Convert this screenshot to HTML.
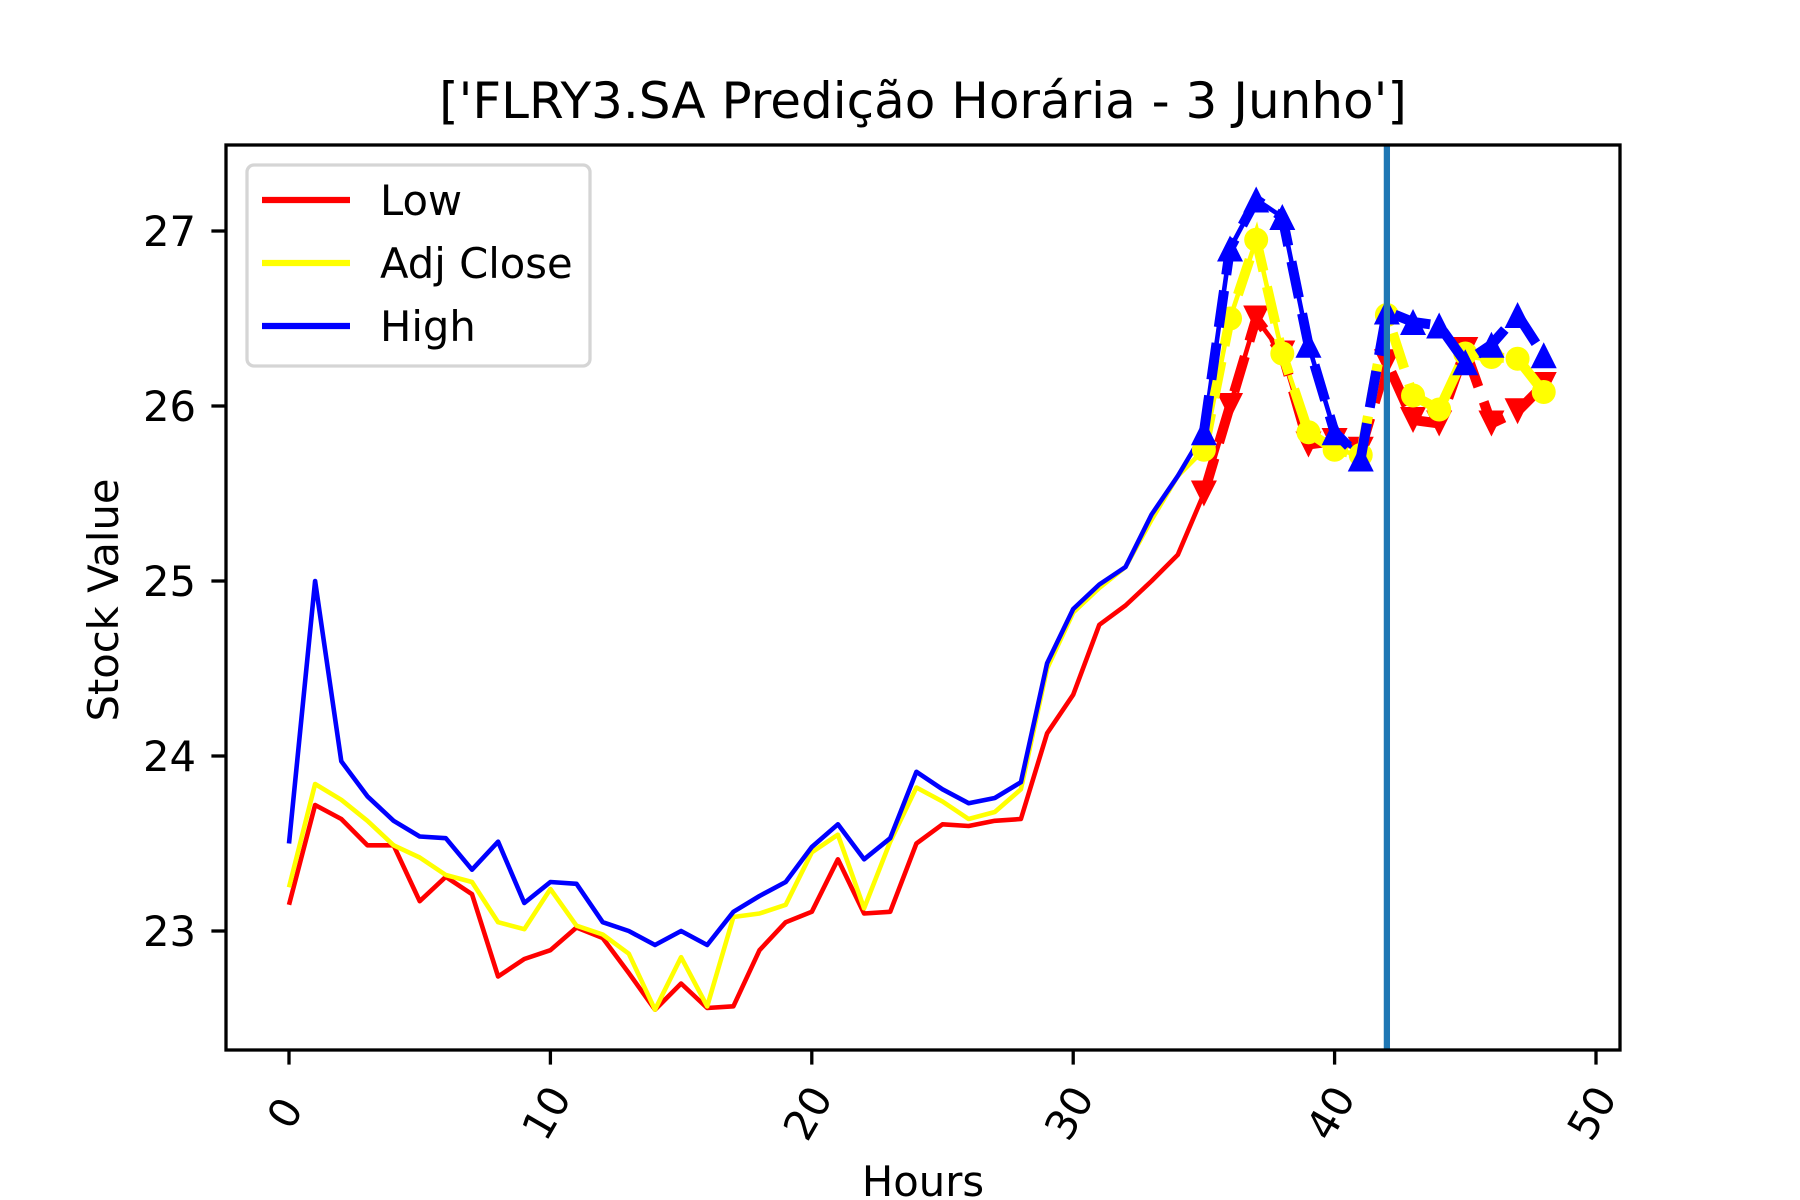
<!DOCTYPE html>
<html><head><meta charset="utf-8"><style>
html,body{margin:0;padding:0;background:#fff;}
svg{display:block;font-family:"DejaVu Sans","Liberation Sans",sans-serif;}
</style></head><body>
<svg id="chart" width="1800" height="1200" viewBox="0 0 1800 1200" xmlns="http://www.w3.org/2000/svg">
<rect width="1800" height="1200" fill="#fff"/>
<text x="923" y="118" font-size="50" text-anchor="middle">['FLRY3.SA Predição Horária - 3 Junho']</text>
<text x="923" y="1196" font-size="41.7" text-anchor="middle">Hours</text>
<text x="0" y="0" font-size="41.7" text-anchor="middle" transform="translate(118,600) rotate(-90)">Stock Value</text>
<g id="plot"></g>
</svg>
<script>
const hours = Array.from({length:42},(_,i)=>i);
const lowActual = [23.15,23.72,23.64,23.49,23.49,23.17,23.31,23.21,22.74,22.84,22.89,23.02,22.96,22.76,22.55,22.70,22.56,22.57,22.89,23.05,23.11,23.41,23.10,23.11,23.50,23.61,23.60,23.63,23.64,24.13,24.35,24.75,24.86,25.00,25.15,25.50,26.00,26.50,26.30,25.80,25.80,25.75];
const closeActual = [23.25,23.84,23.75,23.63,23.49,23.42,23.32,23.28,23.05,23.01,23.24,23.03,22.98,22.87,22.55,22.85,22.57,23.08,23.10,23.15,23.45,23.55,23.13,23.51,23.82,23.74,23.64,23.68,23.81,24.50,24.82,24.96,25.08,25.35,25.60,25.75,26.50,26.95,26.30,25.85,25.75,25.72];
const highActual = [23.50,25.00,23.97,23.77,23.63,23.54,23.53,23.35,23.51,23.16,23.28,23.27,23.05,23.00,22.92,23.00,22.92,23.11,23.20,23.28,23.48,23.61,23.41,23.53,23.91,23.81,23.73,23.76,23.85,24.53,24.84,24.98,25.08,25.38,25.60,25.85,26.90,27.18,27.08,26.35,25.85,25.72];
const predHours = [35,36,37,38,39,40,41,42,43,44,45,46,47,48];
const lowPred = [25.50,26.00,26.50,26.30,25.78,25.80,25.75,26.25,25.92,25.90,26.32,25.90,25.97,26.12];
const closePred = [25.75,26.50,26.95,26.30,25.85,25.75,25.72,26.52,26.06,25.98,26.30,26.28,26.27,26.08];
const highPred = [25.85,26.90,27.18,27.08,26.35,25.85,25.70,26.54,26.48,26.46,26.25,26.35,26.52,26.29];
const xTicks = [0,10,20,30,40,50];
const yTicks = [23,24,25,26,27];
const splitHour = 42;

const NS="http://www.w3.org/2000/svg";
const L=226,R=1620,T=145,B=1050;
const X=v=>289+(v)*26.14;
const Y=v=>231+(27-v)*175;
const plot=document.getElementById('plot');
function mk(tag,attrs,parent){const e=document.createElementNS(NS,tag);for(const k in attrs)e.setAttribute(k,attrs[k]);(parent||plot).appendChild(e);return e;}
const defs=mk('defs',{});
const cp=mk('clipPath',{id:'clip'},defs);mk('rect',{x:L,y:T,width:R-L,height:B-T},cp);
const g=mk('g',{'clip-path':'url(#clip)'});
function pts(xs,ys){return xs.map((x,i)=>X(x).toFixed(1)+','+Y(ys[i]).toFixed(1)).join(' ');}
[[lowActual,'#ff0000','low-actual-line'],[closeActual,'#ffff00','adj-close-actual-line'],[highActual,'#0000ff','high-actual-line']].forEach(([d,c,n])=>{
 const p=mk('polyline',{points:pts(hours,d),fill:'none',stroke:c,'stroke-width':4.6,'stroke-linejoin':'round'},g);
 
 
});
function marker(type,x,y,c,parent){
 const s=13;let e;
 if(type==='o'){e=mk('circle',{cx:x,cy:y,r:12,fill:c},parent);}
 else if(type==='v'){e=mk('polygon',{points:`${x-s},${y-s} ${x+s},${y-s} ${x},${y+s}`,fill:c},parent);}
 else {e=mk('polygon',{points:`${x-s},${y+s} ${x+s},${y+s} ${x},${y-s}`,fill:c},parent);}
 return e;
}
[[lowPred,'#ff0000','v','low-prediction'],[closePred,'#ffff00','o','adj-close-prediction'],[highPred,'#0000ff','^','high-prediction']].forEach(([d,c,m,n])=>{
 const gg=mk('g',{},g);
 
 
 mk('polyline',{points:pts(predHours,d),fill:'none',stroke:c,'stroke-width':10,'stroke-dasharray':'37 16'},gg);
 predHours.forEach((h,i)=>{
  const mm=marker(m,X(h),Y(d[i]),c,gg);
  
  
 });
});
const vl=mk('line',{x1:X(splitHour),x2:X(splitHour),y1:T,y2:B,stroke:'#1f77b4','stroke-width':6.25});


const fr=mk('rect',{x:L,y:T,width:R-L,height:B-T,fill:'none',stroke:'#000','stroke-width':3.3});


xTicks.forEach(t=>{
 const x=X(t);
 const tk=mk('line',{x1:x,x2:x,y1:B,y2:B+14.6,stroke:'#000','stroke-width':3.3});
 
 
 const tx=mk('text',{x:0,y:0,'font-size':41.7,'text-anchor':'middle','dominant-baseline':'central',transform:`translate(${x-4},1113) rotate(-60)`});
 tx.textContent=t;
 
 
});
yTicks.forEach(t=>{
 const y=Y(t);
 const tk=mk('line',{x1:L-14.6,x2:L,y1:y,y2:y,stroke:'#000','stroke-width':3.3});
 
 
 const tx=mk('text',{x:196,y:y+15,'font-size':41.7,'text-anchor':'end'});
 tx.textContent=t;
 
 
});
const lg=mk('g',{});


mk('rect',{x:247,y:165,width:343,height:201,rx:7,fill:'#fff',stroke:'#d5d5d5','stroke-width':3.3},lg);
[['Low','#ff0000'],['Adj Close','#ffff00'],['High','#0000ff']].forEach(([n,c],i)=>{
 const y=200+i*63;
 const e=mk('g',{},lg);
 
 
 mk('line',{x1:262,x2:350,y1:y,y2:y,stroke:c,'stroke-width':6.25},e);
 const t=mk('text',{x:380,y:y+15,'font-size':41.7},e);t.textContent=n;
});
</script>
</body></html>
